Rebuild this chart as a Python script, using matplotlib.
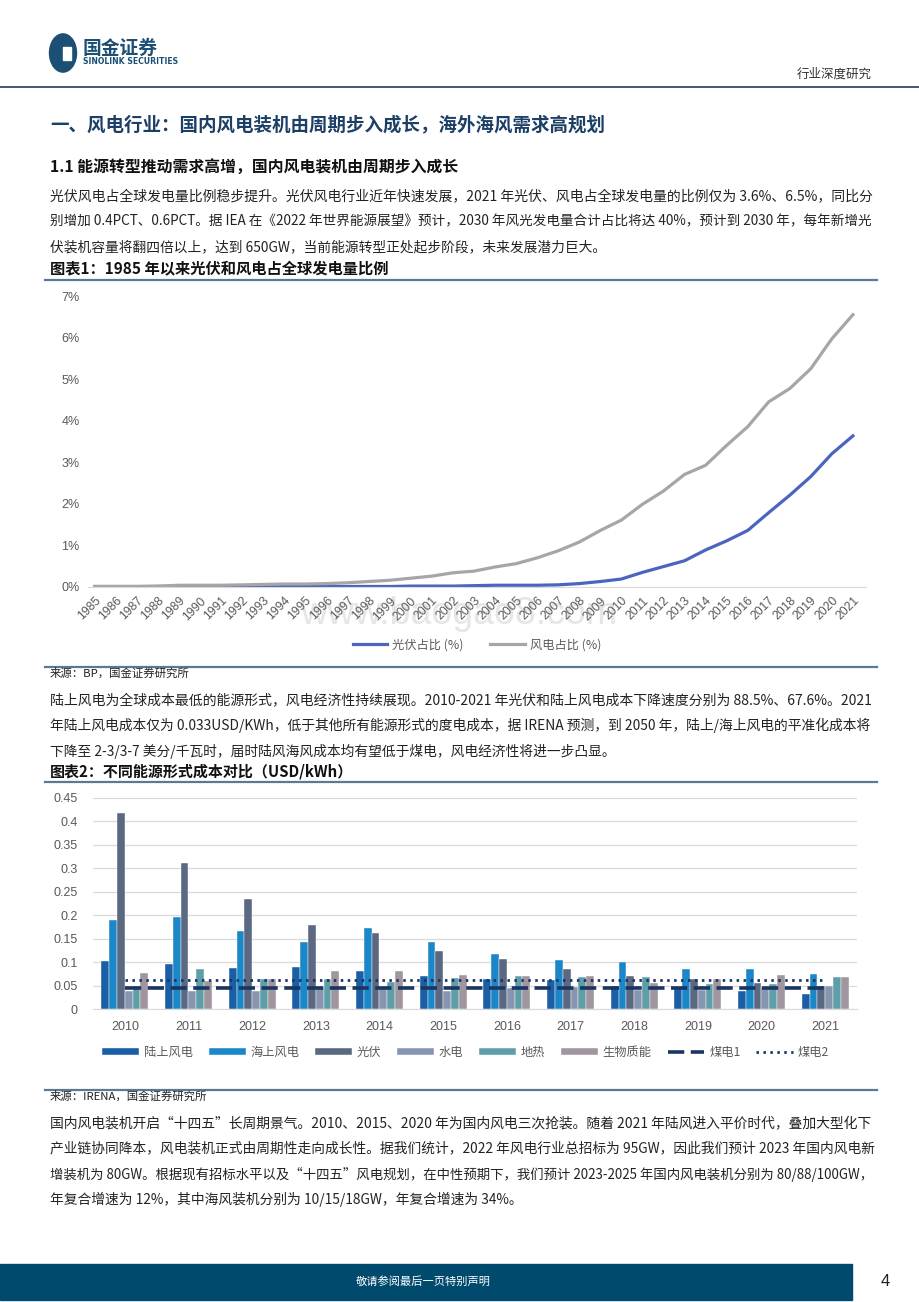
import matplotlib
matplotlib.use('Agg')
import matplotlib.pyplot as plt
from matplotlib.patches import Rectangle, Circle

plt.rcParams['font.family'] = ['Liberation Sans', 'Noto Sans CJK SC', 'DejaVu Sans']
CJK = ['Noto Sans CJK SC', 'DejaVu Sans']

W, H = 920, 1302

# chart 1 data
years1 = [str(y) for y in range(1985, 2022)]
solar_share = [0, 0, 0, 0, 0, 0, 0, 0, 0, 0, 0, 0, 0, 0, 0, 0.01, 0.01, 0.01,
               0.02, 0.03, 0.03, 0.03, 0.04, 0.07, 0.12, 0.18, 0.34, 0.48, 0.62,
               0.88, 1.1, 1.35, 1.78, 2.2, 2.65, 3.2, 3.63]
wind_share = [0, 0, 0, 0.01, 0.03, 0.03, 0.03, 0.04, 0.05, 0.06, 0.06, 0.07,
              0.09, 0.12, 0.15, 0.2, 0.25, 0.33, 0.37, 0.47, 0.55, 0.69, 0.86,
              1.07, 1.35, 1.6, 1.98, 2.3, 2.7, 2.92, 3.4, 3.85, 4.45, 4.77,
              5.25, 5.97, 6.55]

# chart 2 data (USD/kWh)
years2 = [str(y) for y in range(2010, 2022)]
onshore = [0.103, 0.095, 0.087, 0.090, 0.080, 0.071, 0.063, 0.061, 0.049, 0.045, 0.038, 0.033]
offshore = [0.189, 0.196, 0.167, 0.142, 0.172, 0.142, 0.118, 0.105, 0.100, 0.085, 0.085, 0.075]
pv = [0.418, 0.311, 0.234, 0.180, 0.162, 0.123, 0.106, 0.086, 0.071, 0.063, 0.055, 0.048]
hydro = [0.039, 0.038, 0.038, 0.044, 0.044, 0.038, 0.044, 0.047, 0.041, 0.041, 0.046, 0.048]
geo = [0.050, 0.085, 0.063, 0.065, 0.058, 0.067, 0.070, 0.068, 0.068, 0.053, 0.053, 0.068]
bio = [0.077, 0.059, 0.063, 0.082, 0.082, 0.073, 0.070, 0.070, 0.055, 0.063, 0.073, 0.068]
coal1 = [0.045] * 12
coal2 = [0.061] * 12
bar_names = ['陆上风电', '海上风电', '光伏', '水电', '地热', '生物质能']
bar_colors = ['#1a5ea6', '#1b86c8', '#5b6882', '#8796b0', '#5e9ea8', '#a1969f']

fig = plt.figure(figsize=(9.2, 13.02), dpi=100)
renderer = fig.canvas.get_renderer()


def fx(x):
    return x / W


def fy(y):
    return 1 - y / H


def txt(x, y, s, size=9.9, **kw):
    kw.setdefault('family', CJK)
    kw.setdefault('va', 'center')
    return fig.text(fx(x), fy(y), s, fontsize=size, **kw)


def para(lines, y0, step=25.5, width=822):
    # full lines are fitted to the text block width, last line stays as is
    for i, s in enumerate(lines):
        t = txt(50, y0 + i * step, s, color='#222222')
        if i < len(lines) - 1:
            wpx = t.get_window_extent(renderer).width
            t.set_fontsize(9.9 * width / wpx)


def hline(y, x0=45, x1=877, color='#5b7896', lw=1.6):
    fig.add_artist(plt.Line2D([fx(x0), fx(x1)], [fy(y), fy(y)], color=color, lw=lw,
                              transform=fig.transFigure))


# header
fig.add_artist(Circle((fx(63), fy(53)), 13.5 / W, transform=fig.transFigure,
                      color='#1c4f74'))
fig.add_artist(Rectangle((fx(63), fy(60)), 8 / W, 13 / H, transform=fig.transFigure,
                         color='white'))
txt(83, 48, '国金证券', size=13.5, color='#1c4f74', weight='bold')
txt(83, 62, 'SINOLINK SECURITIES', size=5.6, color='#1c4f74', weight='bold',
    family=['DejaVu Sans'])
txt(872, 74, '行业深度研究', size=9, color='#333333', ha='right')
hline(87, 0, 920, color='#3d5a78', lw=1.4)

txt(50, 125, '一、风电行业：国内风电装机由周期步入成长，海外海风需求高规划', size=13.3,
    color='#1c3f66', weight='bold')
txt(50, 167, '1.1 能源转型推动需求高增，国内风电装机由周期步入成长', size=11.4,
    color='#111111', weight='bold')

para([
    '光伏风电占全球发电量比例稳步提升。光伏风电行业近年快速发展，2021 年光伏、风电占全球发电量的比例仅为 3.6%、6.5%，同比分',
    '别增加 0.4PCT、0.6PCT。据 IEA 在《2022 年世界能源展望》预计，2030 年风光发电量合计占比将达 40%，预计到 2030 年，每年新增光',
    '伏装机容量将翻四倍以上，达到 650GW，当前能源转型正处起步阶段，未来发展潜力巨大。'], 196)

txt(50, 269, '图表1：1985 年以来光伏和风电占全球发电量比例', size=11, weight='bold',
    color='#111111')
hline(280)

# chart 1
ax1 = fig.add_axes([fx(88), fy(586.5), (866 - 88) / W, (586.5 - 296) / H])
x1 = list(range(len(years1)))
ax1.plot(x1, solar_share, color='#4a64c0', lw=2.3, label='光伏占比 (%)')
ax1.plot(x1, wind_share, color='#a6a6a6', lw=2.3, label='风电占比 (%)')
ax1.set_xlim(-0.33, 36.62)
ax1.set_ylim(0, 7)
ax1.set_yticks(range(8))
ax1.set_yticklabels([f'{v}%' for v in range(8)], color='#595959', fontsize=9)
ax1.set_xticks(x1)
ax1.set_xticklabels(years1, rotation=45, ha='right', rotation_mode='anchor',
                    color='#595959', fontsize=8.8)
for s in ['top', 'right', 'left']:
    ax1.spines[s].set_visible(False)
ax1.spines['bottom'].set_color('#d9d9d9')
ax1.tick_params(length=0, pad=6)
ax1.set_zorder(2)
ax1.patch.set_alpha(0)
leg1 = ax1.legend(loc='center', bbox_to_anchor=(0.5, -0.2), ncol=2, frameon=False,
                  prop={'family': CJK, 'size': 8.8}, handlelength=2.8,
                  columnspacing=2.2, handletextpad=0.4)
for t in leg1.get_texts():
    t.set_color('#595959')

fig.text(fx(459), fy(614), 'www.baogao8.com', fontsize=27, color='#e6e6e6',
         ha='center', va='center', family=['Liberation Sans'], zorder=0)

hline(667)
txt(50, 673, '来源：BP，国金证券研究所', size=8.2, color='#222222')

para([
    '陆上风电为全球成本最低的能源形式，风电经济性持续展现。2010-2021 年光伏和陆上风电成本下降速度分别为 88.5%、67.6%。2021',
    '年陆上风电成本仅为 0.033USD/KWh，低于其他所有能源形式的度电成本，据 IRENA 预测，到 2050 年，陆上/海上风电的平准化成本将',
    '下降至 2-3/3-7 美分/千瓦时，届时陆风海风成本均有望低于煤电，风电经济性将进一步凸显。'], 700)

txt(50, 772, '图表2：不同能源形式成本对比（USD/kWh）', size=10.8, weight='bold',
    color='#111111')
hline(782)

# chart 2
ax2 = fig.add_axes([fx(93), fy(1009), (857 - 93) / W, (1009 - 798) / H])
x2 = list(range(len(years2)))
w = 0.123
handles = []
for k, (vals, name, col) in enumerate(zip([onshore, offshore, pv, hydro, geo, bio],
                                          bar_names, bar_colors)):
    b = ax2.bar([i + (k - 2.5) * w for i in x2], vals, width=w, color=col, label=name,
                edgecolor='white', linewidth=0.3, zorder=2)
    handles.append(b)
l1, = ax2.plot(x2, coal1, color='#1b3562', lw=2.6, dashes=(4.5, 1.8), label='煤电1', zorder=3)
l2, = ax2.plot(x2, coal2, color='#1b3562', lw=2.0, dashes=(0.9, 1.6), label='煤电2', zorder=3)
handles += [l1, l2]
ax2.set_xlim(-0.5, 11.5)
ax2.set_ylim(0, 0.45)
yt = [0, 0.05, 0.1, 0.15, 0.2, 0.25, 0.3, 0.35, 0.4, 0.45]
ax2.set_yticks(yt)
ax2.set_yticklabels(['0'] + [f'{v:g}' for v in yt[1:]], color='#595959', fontsize=9)
ax2.set_xticks(x2)
ax2.set_xticklabels(years2, color='#595959', fontsize=9)
ax2.grid(axis='y', color='#d9d9d9', lw=0.9, zorder=0)
for s in ['top', 'right', 'left']:
    ax2.spines[s].set_visible(False)
ax2.spines['bottom'].set_color('#d9d9d9')
ax2.tick_params(length=0, pad=9)
ax2.tick_params(axis='y', pad=11)
leg2 = ax2.legend(handles=handles, labels=bar_names + ['煤电1', '煤电2'],
                  loc='center', bbox_to_anchor=(0.488, -0.205), ncol=8, frameon=False,
                  prop={'family': CJK, 'size': 8.8}, handlelength=3.0,
                  columnspacing=1.3, handletextpad=0.4, handleheight=0.5)
for t in leg2.get_texts():
    t.set_color('#595959')

hline(1090)
txt(50, 1096, '来源：IRENA，国金证券研究所', size=8.2, color='#222222')

para([
    '国内风电装机开启“十四五”长周期景气。2010、2015、2020 年为国内风电三次抢装。随着 2021 年陆风进入平价时代，叠加大型化下',
    '产业链协同降本，风电装机正式由周期性走向成长性。据我们统计，2022 年风电行业总招标为 95GW，因此我们预计 2023 年国内风电新',
    '增装机为 80GW。根据现有招标水平以及“十四五”风电规划，在中性预期下，我们预计 2023-2025 年国内风电装机分别为 80/88/100GW，',
    '年复合增速为 12%，其中海风装机分别为 10/15/18GW，年复合增速为 34%。'], 1123)

# footer
fig.add_artist(Rectangle((0, fy(1300)), fx(852), 36 / H, transform=fig.transFigure,
                         color='#004a6e'))
txt(423, 1281, '敬请参阅最后一页特别声明', size=8.1, color='white', ha='center')
txt(885, 1282, '4', size=12, color='#222222', ha='center', family=['Liberation Sans'])

fig.savefig('out.png', dpi=100)
